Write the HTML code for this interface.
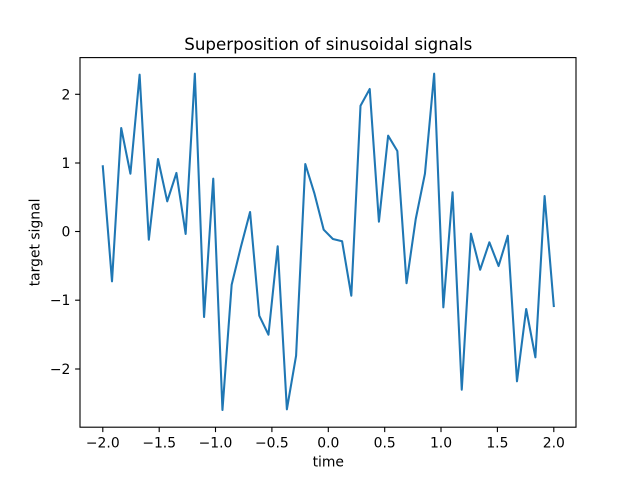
<!DOCTYPE html>
<html>
<head>
<meta charset="utf-8">
<style>
html,body{margin:0;padding:0;background:#fff;}
svg{display:block;}
text{font-family:"DejaVu Sans","Liberation Sans",sans-serif;fill:#000;}
</style>
</head>
<body>
<svg width="640" height="480" viewBox="0 0 640 480" xmlns="http://www.w3.org/2000/svg">
<rect x="0" y="0" width="640" height="480" fill="#fff"/>
<g transform="translate(0.3,0)">
<polyline fill="none" stroke="#1f77b4" stroke-width="2.08" stroke-linejoin="round" stroke-linecap="square" points="
102.50,166.3 111.70,281.3 120.91,128 130.11,173.7 139.32,74.7 148.52,239.7 157.72,159 166.93,201.3 176.13,173 185.34,234
194.54,73.7 203.75,317 212.95,178.7 222.15,410 231.36,284.7 240.56,247 249.77,212 258.97,315.7 268.17,334.7 277.38,246.3
286.58,409.3 295.79,355.7 304.99,164 314.19,193.7 323.40,229.7 332.60,239 341.81,241.3 351.01,295.7 360.21,105.7 369.42,89
378.62,221.7 387.83,135.7 397.03,151 406.23,283.2 415.44,219 424.64,173.7 433.85,73.7 443.05,307.3 452.26,192.3 461.46,389.7
470.66,233.7 479.87,269.7 489.07,242.3 498.28,266 507.48,235.7 516.68,381.3 525.89,309 535.09,357.3 544.30,196 553.50,306"/>
</g>
<rect x="80" y="57.6" width="496" height="369.6" fill="none" stroke="#000" stroke-width="1.11"/>
<!-- x ticks -->
<g stroke="#000" stroke-width="1.11">
<line x1="102.8" y1="427.2" x2="102.8" y2="432.1"/>
<line x1="159.2" y1="427.2" x2="159.2" y2="432.1"/>
<line x1="215.5" y1="427.2" x2="215.5" y2="432.1"/>
<line x1="271.9" y1="427.2" x2="271.9" y2="432.1"/>
<line x1="328.3" y1="427.2" x2="328.3" y2="432.1"/>
<line x1="384.7" y1="427.2" x2="384.7" y2="432.1"/>
<line x1="441.0" y1="427.2" x2="441.0" y2="432.1"/>
<line x1="497.4" y1="427.2" x2="497.4" y2="432.1"/>
<line x1="553.8" y1="427.2" x2="553.8" y2="432.1"/>
</g>
<g font-size="13.9" text-anchor="middle">
<text x="102.8" y="447.5">−2.0</text>
<text x="159.2" y="447.5">−1.5</text>
<text x="215.5" y="447.5">−1.0</text>
<text x="271.9" y="447.5">−0.5</text>
<text x="328.3" y="447.5">0.0</text>
<text x="384.7" y="447.5">0.5</text>
<text x="441.0" y="447.5">1.0</text>
<text x="497.4" y="447.5">1.5</text>
<text x="553.8" y="447.5">2.0</text>
</g>
<!-- y ticks -->
<g stroke="#000" stroke-width="1.11">
<line x1="80" y1="94.3" x2="75.1" y2="94.3"/>
<line x1="80" y1="163" x2="75.1" y2="163"/>
<line x1="80" y1="231.5" x2="75.1" y2="231.5"/>
<line x1="80" y1="300.2" x2="75.1" y2="300.2"/>
<line x1="80" y1="369" x2="75.1" y2="369"/>
</g>
<g font-size="13.9" text-anchor="end">
<text x="70.3" y="99.3">2</text>
<text x="70.3" y="168">1</text>
<text x="70.3" y="236.5">0</text>
<text x="70.3" y="305.2">−1</text>
<text x="70.3" y="374">−2</text>
</g>
<text x="328.3" y="466.7" font-size="13.9" text-anchor="middle">time</text>
<text transform="translate(39.5,242.4) rotate(-90)" font-size="13.9" text-anchor="middle">target signal</text>
<text x="328.3" y="50" font-size="16.67" text-anchor="middle">Superposition of sinusoidal signals</text>
</svg>
</body>
</html>
